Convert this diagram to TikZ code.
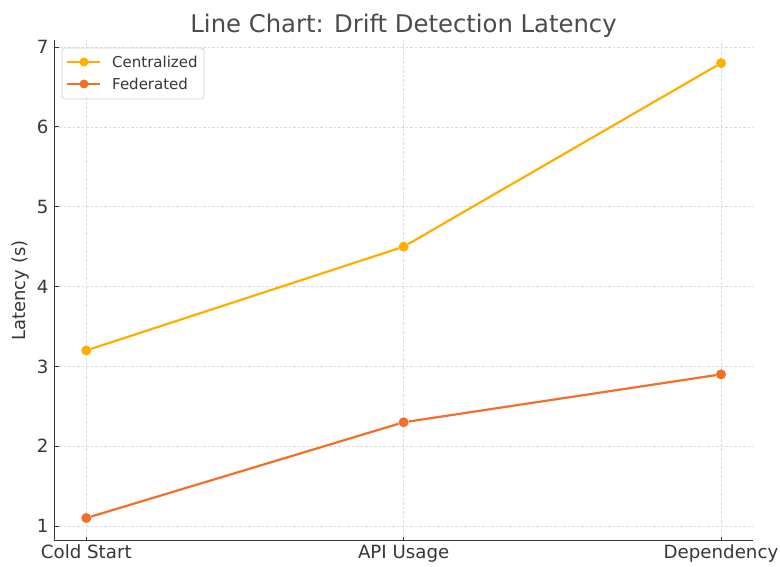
\documentclass[tikz,border=0pt]{standalone}
\usepackage{fontspec}
\setmainfont{DejaVu Sans}
\usepackage{xcolor}
\usetikzlibrary{positioning}
\definecolor{centralcol}{RGB}{255,174,0}
\definecolor{fedcol}{RGB}{243,110,38}
\definecolor{axiscol}{RGB}{55,55,55}
\definecolor{gridcol}{RGB}{218,218,218}
\tikzset{
  gridline/.style={gridcol, dash pattern=on 2.5pt off 2pt, line width=0.7pt},
  spine/.style={axiscol, line width=1.3pt},
  datapt/.style={circle, fill=#1, inner sep=0pt, minimum size=10pt},
  series/.style={#1, line width=2.2pt},
  ticklabel/.style={text=axiscol, inner sep=0pt, font=\fontsize{18.2}{20}\selectfont},
  legendtext/.style={text=axiscol, inner sep=0pt, anchor=west, font=\fontsize{15}{17}\selectfont},
}

\begin{document}
\begin{tikzpicture}[x=1pt,y=1pt]
  \useasboundingbox[fill=white] (0,0) rectangle (780,566);
  \node[anchor=base, text=axiscol!90, inner sep=0pt, font=\fontsize{24.3}{27}\selectfont] (title) at (403.6,533.3) {Line Chart: Drift Detection Latency};
  \node[rotate=90, text=axiscol, inner sep=0pt, font=\fontsize{18}{20}\selectfont] (ylabel) at (21,275.4) {Latency (s)};
  \begin{scope}[shift={(86.3,-39.8)}, x=317.35pt, y=79.8pt]
    % grid
    \foreach \v in {1,...,7}
      \draw[gridline] (-0.1,\v) -- (2.1,\v);
    \foreach \i in {0,1,2}
      \draw[gridline] (\i,0.815) -- (\i,7.085);
    % axes
    \draw[spine] (-0.1,7.085) -- (-0.1,0.815) -- (2.1,0.815);
    \foreach \v in {1,...,7} {
      \draw[spine, line width=1pt] (-0.1,\v) -- ++(4pt,0);
      \node[ticklabel, anchor=east] (ytick\v) at ([xshift=-6pt]-0.1,\v) {\v};
    }
    \foreach \i/\name in {0/Cold Start,1/API Usage,2/Dependency} {
      \draw[spine, line width=1pt] (\i,0.815) -- ++(0,4pt);
      \node[ticklabel, anchor=base] (xtick\i) at ([yshift=-18pt]\i,0.815) {\name};
    }
    % data
    \node[datapt=centralcol] (c0) at (0,3.2) {};
    \node[datapt=centralcol] (c1) at (1,4.5) {};
    \node[datapt=centralcol] (c2) at (2,6.8) {};
    \node[datapt=fedcol] (f0) at (0,1.1) {};
    \node[datapt=fedcol] (f1) at (1,2.3) {};
    \node[datapt=fedcol] (f2) at (2,2.9) {};
    \draw[series=centralcol] (c0) -- (c1) -- (c2);
    \draw[series=fedcol] (f0) -- (f1) -- (f2);
  \end{scope}
  % legend
  \draw[gray!35, fill=white, fill opacity=0.8, rounded corners=3pt, line width=0.8pt] (62,467) rectangle (204,518);
  \node[datapt=centralcol, minimum size=9pt] (lc) at (84,504) {};
  \coordinate (lc1) at (67,504);
  \coordinate (lc2) at (100,504);
  \draw[series=centralcol] (lc1) -- (lc2);
  \node[legendtext] (lctext) at (112,504) {Centralized};
  \node[datapt=fedcol, minimum size=9pt] (lf) at (84,482) {};
  \coordinate (lf1) at (67,482);
  \coordinate (lf2) at (100,482);
  \draw[series=fedcol] (lf1) -- (lf2);
  \node[legendtext] (lftext) at (112,482) {Federated};
\end{tikzpicture}
\end{document}
